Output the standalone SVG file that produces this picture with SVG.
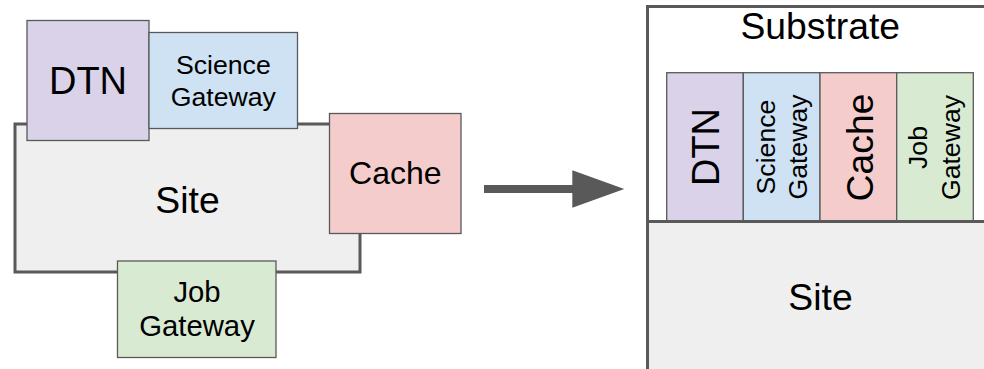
<svg xmlns="http://www.w3.org/2000/svg" width="984" height="369" viewBox="0 0 984 369">
<style>
text{font-family:"Liberation Sans",Arial,Helvetica,sans-serif;fill:#000;text-anchor:middle}
.big{stroke:#595959;stroke-width:3}
.box{stroke:#595959;stroke-width:1.3}
.site{fill:#efefef}
.dtn{fill:#d9d2e9}
.sci{fill:#cfe2f3}
.cache{fill:#f4cccc}
.job{fill:#d9ead3}
.arrow{fill:#595959}
</style>
<rect width="984" height="369" fill="#fff"/>
<!-- Left side -->
<g id="site-left">
<rect class="big site" x="15" y="124" width="345" height="148"/>
<text x="187.5" y="213" font-size="37.3">Site</text>
</g>
<g id="dtn-left">
<rect class="box dtn" x="27" y="20.5" width="122" height="120"/>
<text x="88" y="94" font-size="38">DTN</text>
</g>
<g id="science-left">
<rect class="box sci" x="149" y="32.5" width="148.5" height="96"/>
<text x="223.3" y="74" font-size="26.67">Science</text>
<text x="223.3" y="106" font-size="26.67">Gateway</text>
</g>
<g id="cache-left">
<rect class="box cache" x="329.5" y="113.5" width="131.5" height="120"/>
<text x="395.3" y="184.3" font-size="32">Cache</text>
</g>
<g id="job-left">
<rect class="box job" x="117.5" y="261" width="158.5" height="96.5"/>
<text x="197" y="302" font-size="29.3">Job</text>
<text x="197" y="336" font-size="29.3">Gateway</text>
</g>
<!-- Connectors -->
<g id="connectors">
<rect class="arrow" x="484" y="185" width="89" height="8"/>
<polygon class="arrow" points="572.3,170.3 624.3,189 572.3,207.7"/>
</g>
<!-- Right side -->
<g id="substrate">
<rect class="big" fill="#fff" x="647.5" y="6.5" width="400" height="400"/>
<text x="820.3" y="39.3" font-size="37.3">Substrate</text>
</g>
<g id="dtn-right">
<rect class="box dtn" x="666.7" y="72.7" width="76.6" height="148.8"/>
<g transform="translate(705,147) rotate(-90)"><text x="0" y="14" font-size="38">DTN</text></g>
</g>
<g id="science-right">
<rect class="box sci" x="743.3" y="72.7" width="76.7" height="148.8"/>
<g transform="translate(781.7,147) rotate(-90)"><text x="0" y="-6.5" font-size="26.67">Science</text><text x="0" y="25.5" font-size="26.67">Gateway</text></g>
</g>
<g id="cache-right">
<rect class="box cache" x="820" y="72.7" width="76.7" height="148.8"/>
<g transform="translate(858.3,147.5) rotate(-90)"><text x="0" y="14.5" font-size="37.3">Cache</text></g>
</g>
<g id="job-right">
<rect class="box job" x="896.7" y="72.7" width="76.6" height="148.8"/>
<g transform="translate(935,147.5) rotate(-90)"><text x="0" y="-8" font-size="26.67">Job</text><text x="0" y="24.5" font-size="26.67">Gateway</text></g>
</g>
<g id="site-right">
<rect class="big site" x="647.5" y="221.5" width="400" height="200"/>
<text x="820.5" y="310" font-size="37.3">Site</text>
</g>
</svg>
